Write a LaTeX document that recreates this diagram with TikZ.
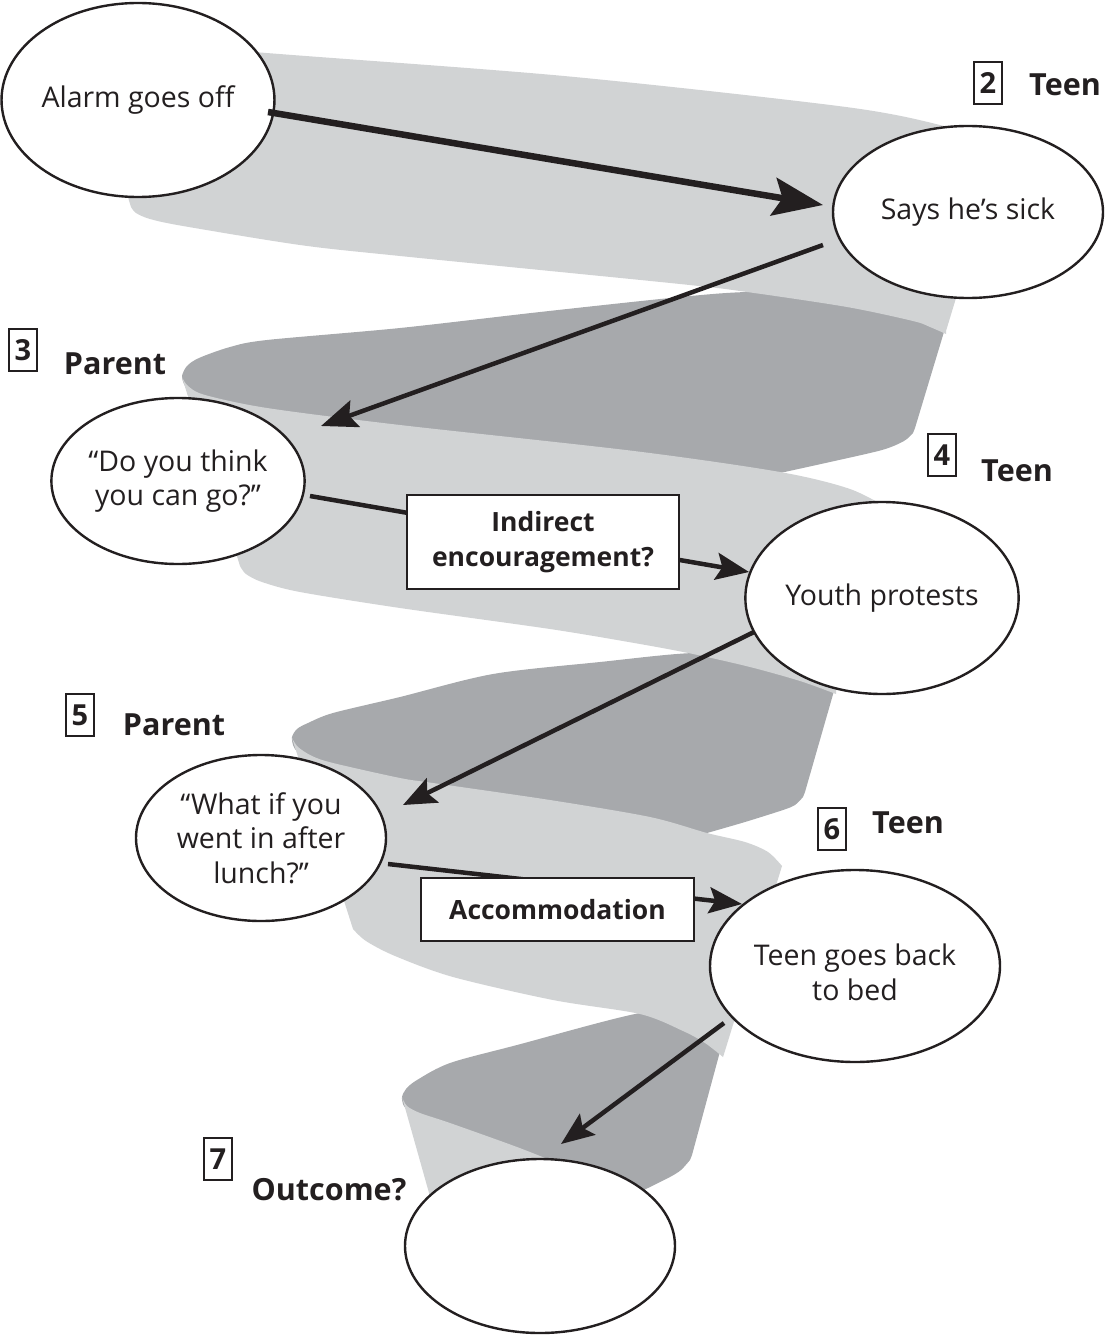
\documentclass[tikz,border=0pt]{standalone}
\usepackage{fontspec}
\setmainfont{Open Sans}
\usetikzlibrary{shapes.geometric,arrows.meta,calc}
\definecolor{ink}{HTML}{231F20}
\definecolor{ribbonlight}{HTML}{D1D3D4}
\definecolor{ribbondark}{HTML}{A7A9AC}

\begin{document}
\begin{tikzpicture}[x=1pt,y=-1pt,
  bubble/.style={ellipse,draw=ink,line width=2.4pt,fill=white,inner sep=0pt,
    align=center,text=ink,font=\fontsize{28.5}{34.5}\selectfont},
  tagbox/.style={rectangle,draw=ink,line width=2.6pt,fill=white,inner sep=0pt,
    align=center,text=ink,font=\bfseries\fontsize{26.5}{35}\selectfont},
  numbox/.style={rectangle,draw=ink,line width=1.4pt,inner sep=0pt,
    minimum width=28pt,minimum height=42pt,text=ink,
    font=\bfseries\fontsize{29}{29}\selectfont},
  role/.style={inner sep=0pt,text=ink,font=\bfseries\fontsize{30.5}{30.5}\selectfont},
  flow/.style={draw=ink,line width=4.5pt},
]
\useasboundingbox (0,0) rectangle (1105,1335);

% ---- back faces of the spiral ribbon (dark) ----
\fill[ribbondark]
  plot[smooth] coordinates {(184,384) (182,376) (187,366) (199,358) (230,347) (267,340)
    (400,328) (540,312) (680,297) (747,292) (820,293) (900,306) (950,312)}
  -- (915,428)
  -- plot[smooth] coordinates {(913,433) (904,441) (882,450) (830,462) (780,473)}
  -- plot[smooth] coordinates {(780,481) (634,459) (400,434) (267,416) (205,398) (186,388)}
  -- cycle;
\fill[ribbondark]
  plot[smooth] coordinates {(293,745) (292,737) (297,729) (308,723) (333,713) (400,697)
    (493,674) (600,662) (693,653) (770,656) (840,670)}
  -- (805,792)
  -- plot[smooth] coordinates {(803,797) (795,805) (783,810) (745,822) (707,833)}
  -- plot[smooth] coordinates {(707,841) (650,826) (433,791) (400,786) (333,771) (305,757) (295,749)}
  -- cycle;
\fill[ribbondark]
  plot[smooth] coordinates {(403,1104) (402,1097) (406,1089) (417,1080) (450,1063)
    (517,1045) (640,1013) (700,1012) (728,1022)}
  -- (692,1155)
  -- plot[smooth] coordinates {(690,1160) (681,1170) (670,1177) (650,1187) (630,1197) (600,1215)}
  -- plot[smooth] coordinates {(565,1180) (517,1154) (450,1130) (412,1113) (404,1106)}
  -- cycle;

% ---- front faces of the spiral ribbon (light) ----
\fill[ribbonlight]
  plot[smooth] coordinates {(78,36) (254,52) (564,76) (846,107) (944,126) (975,138) (998,160)}
  -- (946,331)
  -- plot[smooth] coordinates {(946,334) (930,327) (913,321) (847,307) (747,292) (680,284)
    (400,256) (300,245) (183,226) (150,219) (136,213) (131,207)}
  -- cycle;
\fill[ribbonlight]
  plot[smooth] coordinates {(182,377) (188,386) (205,395) (267,408) (400,425) (634,451)
    (780,472) (850,489) (891,510)}
  -- (836,691)
  -- plot[smooth] coordinates {(836,694) (800,681) (750,667) (693,654) (640,644) (550,629)
    (400,608) (300,592) (262,582) (246,574) (240,566)}
  -- cycle;
\fill[ribbonlight]
  plot[smooth] coordinates {(292,738) (298,747) (312,756) (333,763) (400,778) (433,783)
    (550,800) (650,817) (707,833) (745,842) (768,852) (782,866)}
  -- (724,1054)
  -- plot[smooth] coordinates {(723,1057) (705,1043) (683,1031) (640,1014) (553,1000)
    (453,977) (395,956) (366,941) (353,929)}
  -- cycle;
\fill[ribbonlight]
  plot[smooth] coordinates {(402,1097) (407,1106) (420,1113) (450,1123) (517,1147) (565,1166)}
  -- (580,1230) -- (431,1200) -- cycle;

% ---- steps of the exchange ----
\node[bubble,minimum width=260pt,minimum height=194pt] (n1) at (138,100) {Alarm goes off};
\node[bubble,minimum width=270pt,minimum height=172pt] (n2) at (968,212) {Says he’s sick};
\node[bubble,minimum width=252pt,minimum height=166pt] (n3) at (178,481) {“Do you think\\you can go?”};
\node[bubble,minimum width=242pt,minimum height=192pt] (n4) at (882,598) {Youth protests};
\node[bubble,minimum width=250pt,minimum height=166pt] (n5) at (261,838) {“What if you\\went in after\\lunch?”};
\node[bubble,minimum width=290pt,minimum height=192pt] (n6) at (855,966)
  {\rule{0pt}{34pt}Teen goes back\\to bed};
\node[bubble,minimum width=270pt,minimum height=174pt] (n7) at (540,1246) {};

% ---- connectors ----
\draw[flow,line width=6.5pt,-{Stealth[length=50pt,width=38pt,inset=9pt]}]
  ($(n1)+(130,12)$) -- ($(n2)+(-145,-7)$);
\draw[flow,-{Stealth[length=36pt,width=28pt,inset=6pt]}]
  ($(n2)+(-145,33)$) -- ($(n3)+(143,-55)$);
\draw[flow,-{Stealth[length=33pt,width=27pt,inset=6pt]}]
  ($(n3)+(132,15)$) -- ($(n4)+(-133,-26)$);
\draw[flow,-{Stealth[length=33pt,width=27pt,inset=6pt]}]
  ($(n4)+(-128,34)$) -- ($(n5)+(142,-33)$);
\draw[flow,-{Stealth[length=33pt,width=26pt,inset=6pt]}]
  ($(n5)+(127,26)$) -- ($(n6)+(-113,-62)$);
\draw[flow,-{Stealth[length=33pt,width=26pt,inset=6pt]}]
  ($(n6)+(-131,57)$) -- ($(n7)+(21,-102)$);

% ---- labels on the connectors ----
\node[tagbox,minimum width=272pt,minimum height=94pt] (b1) at (543,542) {Indirect\\encouragement?};
\node[tagbox,minimum width=273pt,minimum height=63pt] (b2) at (557.5,909.5) {Accommodation};

% ---- step numbers and roles ----
\node[numbox] (t2) at (988,83) {2};
\node[role] (r2) at (1065,85) {Teen};
\node[numbox] (t3) at (23,350) {3};
\node[role] (r3) at (115,364) {Parent};
\node[numbox] (t4) at (942,455) {4};
\node[role] (r4) at (1017,471) {Teen};
\node[numbox] (t5) at (80,715) {5};
\node[role] (r5) at (174,725) {Parent};
\node[numbox] (t6) at (832,829) {6};
\node[role] (r6) at (908,823) {Teen};
\node[numbox] (t7) at (218,1159) {7};
\node[role] (r7) at (329,1190) {Outcome?};
\end{tikzpicture}
\end{document}
